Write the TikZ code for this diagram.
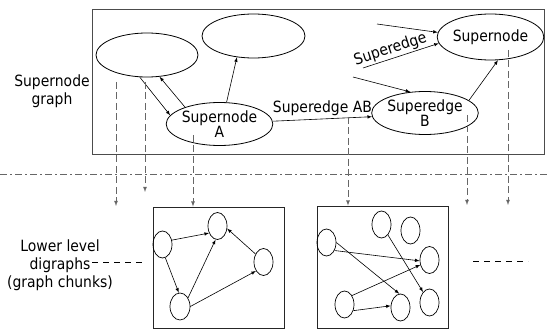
\documentclass[tikz,border=0pt]{standalone}
\usepackage{fontspec}
\setmainfont{DejaVu Sans Condensed}
\usetikzlibrary{shapes.geometric}

\tikzset{
  supernode/.style={draw, ellipse, line width=0.8pt, minimum width=102pt, minimum height=44pt, inner sep=0pt, align=center, font=\fontsize{15.5}{15}\selectfont},
  chunknode/.style={draw, ellipse, line width=0.7pt, minimum width=19pt, minimum height=27pt, inner sep=0pt},
  chunkbox/.style={draw, line width=0.8pt, black!85, inner sep=0pt},
  drop/.style={->, black!60, line width=0.8pt, dash pattern=on 7pt off 3.5pt},
  sepline/.style={black!60, line width=0.8pt, dash pattern=on 7pt off 3pt on 2pt off 3pt},
  chunkdash/.style={line width=0.8pt, dash pattern=on 6pt off 5pt},
  lbl/.style={align=center, inner sep=0pt, font=\fontsize{15.5}{18}\selectfont}
}

\begin{document}
\begin{tikzpicture}[x=1pt, y=-1pt, >=latex, line width=0.6pt]

\useasboundingbox (0,0) rectangle (547,334);

\node[chunkbox, black!70, minimum width=452pt, minimum height=145pt] (top) at (318,81.5) {};
\node[chunkbox, minimum width=131pt, minimum height=121pt] (g1) at (218.5,267.5) {};
\node[chunkbox, minimum width=131pt, minimum height=122pt] (g2) at (382.5,267) {};

%supernodes
\node[supernode] (e1) at (147,55) {};
\node[supernode, minimum width=103pt] (e2) at (253.5,36) {};
\node[supernode, minimum width=101pt, minimum height=43pt] (sa) at (219.5,124) {Supernode\\A};
\node[supernode, minimum width=106pt, minimum height=43pt] (sb) at (425,113) {Superedge\\B};
\node[supernode, minimum width=103pt, minimum height=46pt] (sn) at (490.5,37) {Supernode};

\node[lbl] (lgraph) at (52,91) {Supernode\\graph};
\node[lbl] (lchunk) at (60,265) {Lower level\\digraphs\\(graph chunks)};

\coordinate (in1) at (377,24);
\coordinate (in2) at (363,68);
\coordinate (in3) at (353,77);

\draw[->] (e1.-108) -- (sa.170);
\draw[->] (sa.154) -- (e1.-60);
\draw[->] (sa.72) -- (e2.-128);
\draw[->] (sa.3) -- node[above, inner sep=3pt, font=\fontsize{15.5}{15}\selectfont] (lab) {Superedge AB} (sb.184);
\draw[->] (sb.16) -- (sn.-72);
\draw[->] (in1) -- (sn.175);
\draw[->] (in2) -- node[pos=0.4, above, sloped, inner sep=1.5pt, font=\fontsize{15.5}{15}\selectfont] (lse) {Superedge} (sn.187);
\draw[->] (in3) -- (sb.125);

%drops to the lower level
\coordinate (t1) at (116,82);
\coordinate (t2) at (145,82);
\coordinate (t3) at (193,135);
\coordinate (t4) at (348,117);
\coordinate (t5) at (467,115);
\coordinate (t6) at (508,50);

\draw[drop] (t1) -- ++(0,124);
\draw[drop] (t2) -- ++(0,110);
\draw[drop] (t3) -- (t3 |- g1.north);
\draw[drop] (t4) -- (t4 |- g2.north);
\draw[drop] (t5) -- ++(0,90);
\draw[drop] (t6) -- ++(0,155);

\coordinate (sl) at (0,174);
\coordinate (sr) at (547,174);
\draw[sepline] (sl) -- (sr);

\coordinate (ld1) at (92,262);
\coordinate (ld2) at (145,262);
\coordinate (rd1) at (473,261);
\coordinate (rd2) at (528,261);
\draw[chunkdash] (ld1) -- (ld2);
\draw[chunkdash] (rd1) -- (rd2);

%first chunk
\node[chunknode] (a1) at (162.5,244.5) {};
\node[chunknode] (a2) at (217.5,226) {};
\node[chunknode] (a3) at (263.5,262) {};
\node[chunknode, minimum width=20pt] (a4) at (180,306.5) {};

\draw[->] (a1.25) -- (a2.220);
\draw[->] (a3.135) -- (a2.-15);
\draw[->] (a1.-78) -- (a4.95);
\draw[->] (a4.47) -- (a2.-98);
\draw[->] (a4.0) -- (a3.230);

%second chunk
\node[chunknode] (b1) at (326.5,242.5) {};
\node[chunknode] (b2) at (381.5,224.5) {};
\node[chunknode] (b3) at (410.5,230.5) {};
\node[chunknode] (b4) at (429.5,260) {};
\node[chunknode] (b5) at (344.5,304.5) {};
\node[chunknode] (b6) at (400.5,307.5) {};
\node[chunknode] (b7) at (429.5,302.5) {};

\draw[->] (b1.east) -- (b6.95);
\draw[->] (b1.-45) -- (b4.185);
\draw[->] (b2) -- (b7);
\draw[->] (b5.50) -- (b4.208);
\draw[->] (b5.-35) -- (b6.170);

\end{tikzpicture}
\end{document}
